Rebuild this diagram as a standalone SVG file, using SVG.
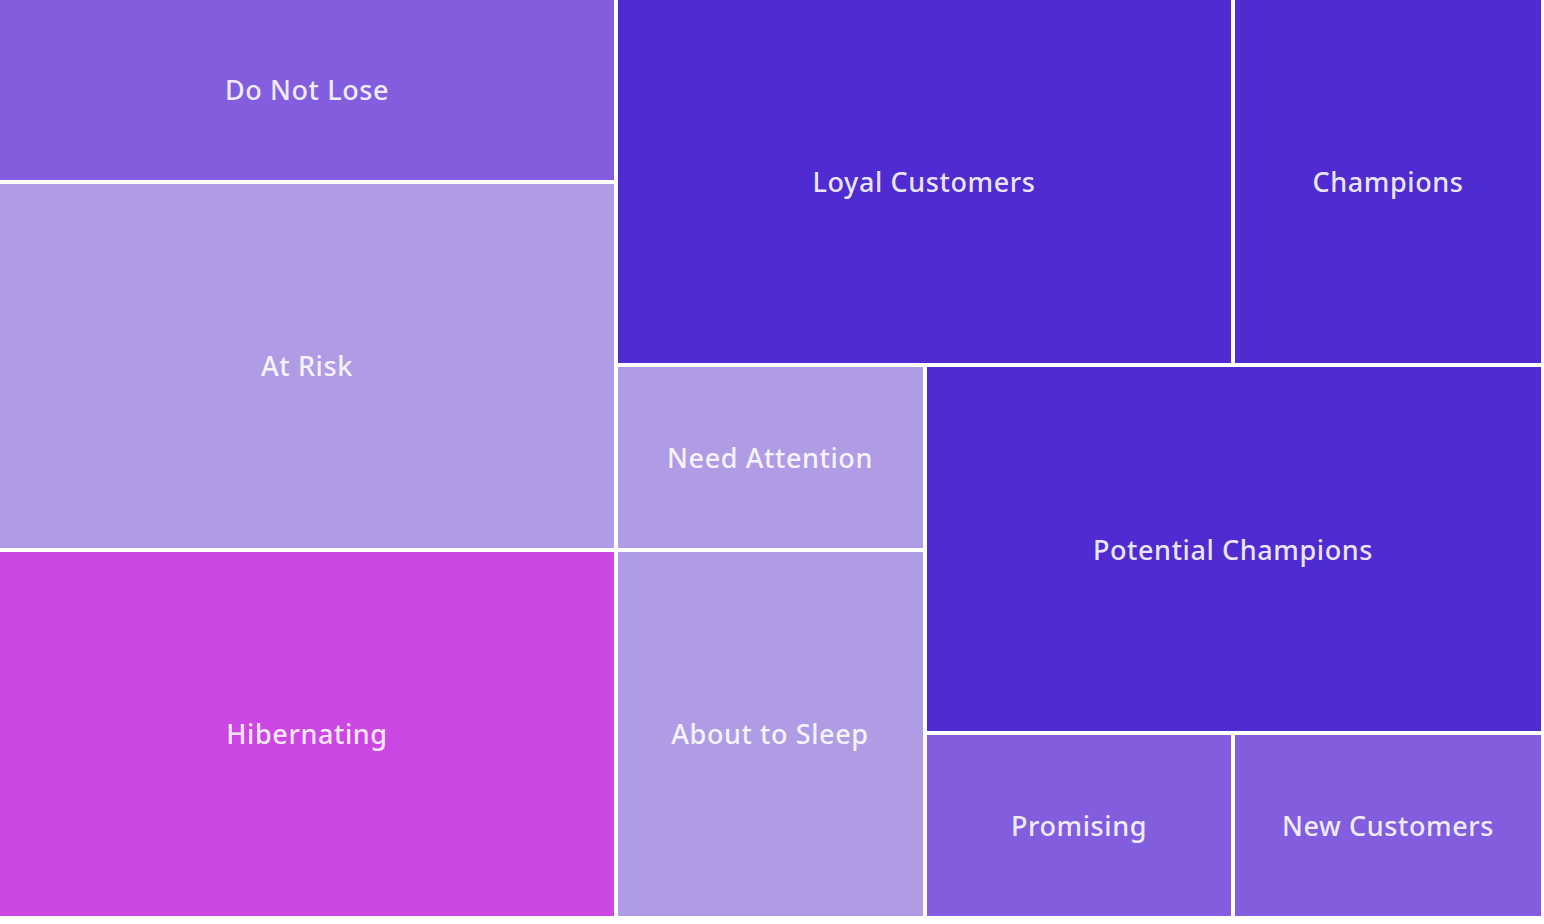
<svg xmlns="http://www.w3.org/2000/svg" width="1544" height="924" viewBox="0 0 1544 924">
<style>
rect.bg{fill:#ffffff}
.dark{fill:#4f2bd1}
.mid{fill:#825edf}
.light{fill:#b09ce5}
.pink{fill:#cb46e2}
text{font-family:"Noto Sans","DejaVu Sans",sans-serif;font-size:27px;font-weight:500;letter-spacing:0.6px;fill:#ffffff;fill-opacity:0.9;text-anchor:middle;dominant-baseline:central}
</style>
<rect class="bg" x="0" y="0" width="1544" height="924"/>
<g id="do-not-lose"><rect class="mid" x="0" y="0" width="614" height="180"/><text x="307" y="89">Do Not Lose</text></g>
<g id="at-risk"><rect class="light" x="0" y="184" width="614" height="364"/><text x="307" y="365">At Risk</text></g>
<g id="hibernating"><rect class="pink" x="0" y="552" width="614" height="364"/><text x="307" y="733">Hibernating</text></g>
<g id="loyal-customers"><rect class="dark" x="618" y="0" width="613" height="363"/><text x="924" y="181">Loyal Customers</text></g>
<g id="champions"><rect class="dark" x="1235" y="0" width="306" height="363"/><text x="1388" y="181">Champions</text></g>
<g id="need-attention"><rect class="light" x="618" y="367" width="305" height="181"/><text x="770" y="457">Need Attention</text></g>
<g id="about-to-sleep"><rect class="light" x="618" y="552" width="305" height="364"/><text x="770" y="733">About to Sleep</text></g>
<g id="potential-champions"><rect class="dark" x="927" y="367" width="614" height="364"/><text x="1233" y="549">Potential Champions</text></g>
<g id="promising"><rect class="mid" x="927" y="735" width="304" height="181"/><text x="1079" y="825">Promising</text></g>
<g id="new-customers"><rect class="mid" x="1235" y="735" width="306" height="181"/><text x="1388" y="825">New Customers</text></g>
<g id="connectors"></g>
</svg>
